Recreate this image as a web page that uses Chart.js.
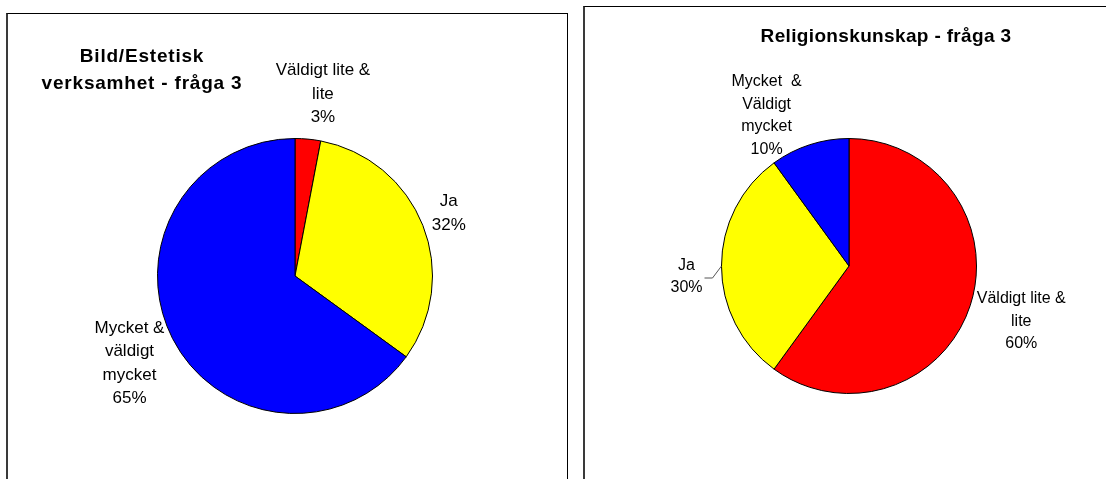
<!DOCTYPE html>
<html lang="sv">
<head>
<meta charset="utf-8">
<title>Fråga 3</title>
<script src="https://cdn.jsdelivr.net/npm/chart.js@4.4.1/dist/chart.umd.min.js"></script>
<style>
  html, body { margin: 0; padding: 0; background: #fff; overflow: hidden; }
  body { width: 1106px; height: 479px; position: relative; }
  .chart-box {
    position: absolute;
    box-sizing: border-box;
    border: 1px solid #000;
    border-left: 2px solid #3a3a3a;
    background: #fff;
  }
  #box-left  { left: 6px;   top: 13px; width: 562px; height: 500px; }
  #box-right { left: 583px; top: 6px;  width: 600px; height: 500px; }
  .chart-box canvas { position: absolute; left: 0; top: 0; }
</style>
</head>
<body>
<div class="chart-box" id="box-left"><canvas id="chart-left" width="558" height="465"></canvas></div>
<div class="chart-box" id="box-right"><canvas id="chart-right" width="521" height="472"></canvas></div>

<script>
'use strict';

/* ---- Data ---- */
const LEFT_TITLE   = ['Bild/Estetisk', 'verksamhet - fråga 3'];
const LEFT_LABELS  = [['Väldigt lite &', 'lite'], ['Ja'], ['Mycket &', 'väldigt', 'mycket']];
const LEFT_VALUES  = [3, 32, 65];

const RIGHT_TITLE  = ['Religionskunskap - fråga 3'];
const RIGHT_LABELS = [['Väldigt lite &', 'lite'], ['Ja'], ['Mycket  &', 'Väldigt', 'mycket']];
const RIGHT_VALUES = [60, 30, 10];

const SLICE_COLORS = ['#ff0000', '#ffff00', '#0000ff'];

const FONT_FAMILY = "'Liberation Sans', Arial, Helvetica, sans-serif";

/* ============================================================
   Plugins
   ============================================================ */

// Title drawn freely (Excel placed the left one off-centre)
const freeTitle = {
  id: 'freeTitle',
  afterDraw(chart, args, opts) {
    const ctx = chart.ctx;
    ctx.save();
    ctx.font = `bold ${opts.size}px ${FONT_FAMILY}`;
    ctx.fillStyle = '#000';
    ctx.textAlign = 'center';
    ctx.textBaseline = 'alphabetic';
    if ('letterSpacing' in ctx) ctx.letterSpacing = opts.spacing + 'px';
    opts.lines.forEach((line, i) => {
      ctx.fillText(line, opts.x, opts.y + i * opts.lineHeight);
    });
    ctx.restore();
  },
};

// Outside-end slice labels: category lines + percentage, placed from arc geometry
const sliceLabels = {
  id: 'sliceLabels',
  afterDatasetsDraw(chart, args, opts) {
    const ctx  = chart.ctx;
    const meta = chart.getDatasetMeta(0);
    const values = chart.data.datasets[0].data;
    const total  = values.reduce((a, b) => a + b, 0);

    ctx.save();
    ctx.font = `${opts.size}px ${FONT_FAMILY}`;
    ctx.fillStyle = '#000';
    ctx.textAlign = 'center';
    ctx.textBaseline = 'middle';

    meta.data.forEach((arc, i) => {
      const { x, y, startAngle, endAngle, outerRadius } =
        arc.getProps(['x', 'y', 'startAngle', 'endAngle', 'outerRadius'], true);
      const mid = (startAngle + endAngle) / 2;
      const ex = x + Math.cos(mid) * outerRadius;
      const ey = y + Math.sin(mid) * outerRadius;

      const lines = [...chart.data.labels[i], `${Math.round(values[i] / total * 100)}%`];
      const [dx, dy] = opts.offsets[i];
      const cx = ex + dx;
      const cy = ey + dy;
      lines.forEach((line, j) => {
        ctx.fillText(line, cx, cy + (j - (lines.length - 1) / 2) * opts.lineHeight);
      });

      const leader = opts.leaders && opts.leaders[i];
      if (leader) {
        ctx.strokeStyle = '#555';
        ctx.lineWidth = 1;
        ctx.beginPath();
        leader.forEach(([lx, ly], k) => {
          if (k === 0) ctx.moveTo(ex + lx, ey + ly);
          else ctx.lineTo(ex + lx, ey + ly);
        });
        ctx.stroke();
      }
    });
    ctx.restore();
  },
};

/* ============================================================
   Chart factory
   ============================================================ */
function makePie(canvasId, labels, values, padding, title, labelOpts) {
  return new Chart(document.getElementById(canvasId), {
    type: 'pie',
    data: {
      labels,
      datasets: [{
        data: values,
        backgroundColor: SLICE_COLORS,
        borderColor: '#000',
        borderWidth: 1,
      }],
    },
    options: {
      responsive: false,
      devicePixelRatio: 1,
      animation: false,
      layout: { padding },
      plugins: {
        legend: { display: false },
        tooltip: { enabled: false },
        title: { display: false },
        freeTitle: title,
        sliceLabels: labelOpts,
      },
    },
    plugins: [freeTitle, sliceLabels],
  });
}

makePie('chart-left', LEFT_LABELS, LEFT_VALUES,
  { left: 149, top: 124, right: 133, bottom: 65 },
  { lines: LEFT_TITLE, x: 134, y: 48, lineHeight: 27, size: 19, spacing: 0.8 },
  { size: 17, lineHeight: 23.5, offsets: [[15, -45], [26, -12], [-43, 25]] }
);

makePie('chart-right', RIGHT_LABELS, RIGHT_VALUES,
  { left: 136, top: 131, right: 129, bottom: 85 },
  { lines: RIGHT_TITLE, x: 301, y: 35, lineHeight: 27, size: 19, spacing: 0.35 },
  {
    size: 16, lineHeight: 22.5,
    offsets: [[51, 16], [-35, 10.5], [-43, -29]],
    leaders: [null, [[0, 0], [-9, 12], [-17, 12]], null],
  }
);
</script>
</body>
</html>
